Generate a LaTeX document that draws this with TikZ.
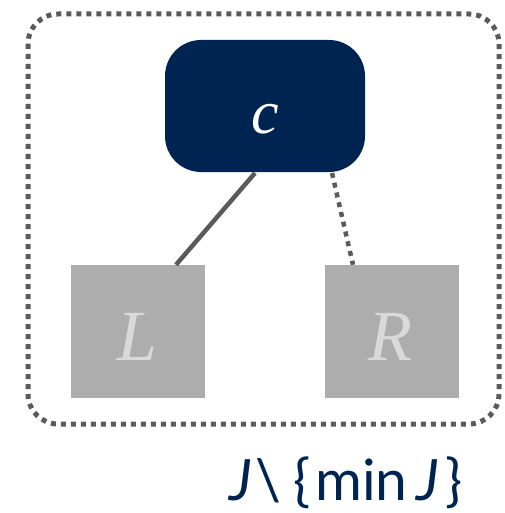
\documentclass[tikz,border=0pt]{standalone}
\usepackage{fontspec}
\setmainfont{Liberation Serif}
\newfontfamily\labelfont{Lato}
\definecolor{navy}{HTML}{002451}
\definecolor{boxgray}{HTML}{ADADAD}
\definecolor{txtgray}{HTML}{D9D9D9}
\definecolor{linegray}{HTML}{5A5A5A}
\begin{document}
\begin{tikzpicture}[x=1pt,y=-1pt,
  leaf/.style={fill=boxgray, minimum width=134pt, minimum height=133pt, inner sep=0pt},
  leaftext/.style={text=txtgray, font=\fontsize{72}{72}\selectfont\itshape, anchor=base, inner sep=0pt},
  conn/.style={draw=linegray, line width=4.5pt},
  dots/.style={dash pattern=on 5pt off 5pt}]
\useasboundingbox (0,0) rectangle (504,513);
\draw[linegray, line width=5pt, dots, rounded corners=30pt] (28,14) rectangle (499,424);
\node[fill=navy, rounded corners=36pt, minimum width=200pt, minimum height=132pt, inner sep=0pt] (c) at (265,106) {};
\node[text=white, font=\fontsize{62}{62}\selectfont\itshape, anchor=base, inner sep=0pt] (ct) at (265,134) {c};
\node[leaf] (L) at (138,331.5) {};
\node[leaf] (R) at (392,331.5) {};
\node[leaftext] (Lt) at (138,360) {L};
\node[leaftext] (Rt) at (390,360) {R};
\coordinate (c1) at (255,173);
\coordinate (c2) at (332,173);
\draw[conn] (c1) -- (L.north -| 176,0);
\draw[conn, dots] (c2) -- (R.north -| 353,0);
\node[text=navy, font=\labelfont\fontsize{57}{57}\selectfont, anchor=base, inner sep=0pt] (lab) at (346,500) {\textit{J}\kern3pt\textbackslash\kern12pt\{\kern5pt min\kern9pt\textit{J}\kern6pt\}};
\end{tikzpicture}
\end{document}
